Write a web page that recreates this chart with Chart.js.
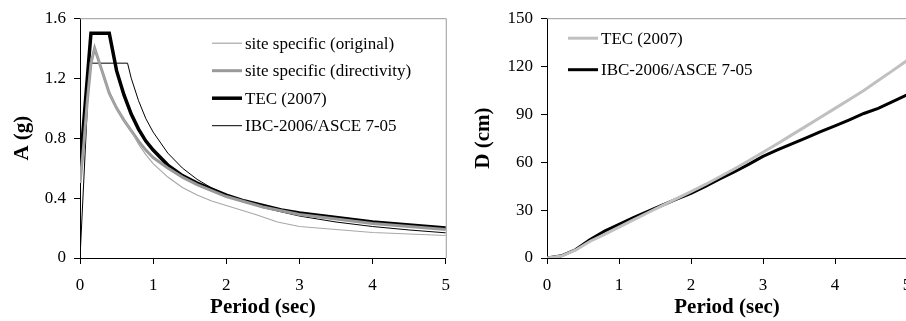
<!DOCTYPE html>
<html>
<head>
<meta charset="utf-8">
<script src="https://cdn.jsdelivr.net/npm/chart.js@4"></script>
<style>
	html, body { margin: 0; padding: 0; background: #fff; overflow: hidden; }
	body { width: 906px; height: 321px; position: relative; }
	.panel { position: absolute; top: 0; }
	#left { left: 0; width: 461px; height: 321px; }
	#right { left: 453px; width: 520px; height: 321px; }
</style>
</head>
<body>
<div class="panel" id="left"><canvas id="accelChart" width="461" height="321"></canvas></div>
<div class="panel" id="right"><canvas id="dispChart" width="520" height="321"></canvas></div>
<script>
// acceleration spectra (g) vs period (sec)
const origPeriods = [0, 0.05, 0.1, 0.15, 0.2, 0.3, 0.4, 0.5, 0.6, 0.7, 0.8, 0.9, 1.0, 1.2, 1.4, 1.6, 1.8, 2.0, 2.2, 2.4, 2.7, 3.0, 3.5, 4.0, 4.5, 5.0];
const origAccel = [0.5, 0.75, 1.05, 1.3, 1.4, 1.25, 1.1, 1.0, 0.92, 0.85, 0.76, 0.69, 0.63, 0.54, 0.47, 0.42, 0.38, 0.35, 0.32, 0.29, 0.24, 0.21, 0.19, 0.17, 0.16, 0.15];

const dirPeriods = [0, 0.05, 0.1, 0.15, 0.2, 0.3, 0.4, 0.5, 0.6, 0.7, 0.8, 0.9, 1.0, 1.2, 1.4, 1.6, 1.8, 2.0, 2.5, 3.0, 3.5, 4.0, 4.5, 5.0];
const dirAccel = [0.5, 0.75, 1.05, 1.3, 1.4, 1.25, 1.1, 1.0, 0.92, 0.85, 0.78, 0.72, 0.67, 0.6, 0.54, 0.49, 0.45, 0.41, 0.34, 0.29, 0.26, 0.23, 0.21, 0.19];

const tecPeriods = [0, 0.15, 0.4, 0.5, 0.6, 0.7, 0.8, 0.9, 1.0, 1.2, 1.4, 1.6, 1.8, 2.0, 2.25, 2.5, 2.75, 3.0, 3.5, 4.0, 4.5, 5.0];
const tecAccel = [0.6, 1.5, 1.5, 1.25, 1.09, 0.96, 0.86, 0.78, 0.72, 0.62, 0.55, 0.5, 0.46, 0.42, 0.38, 0.35, 0.32, 0.3, 0.27, 0.24, 0.22, 0.2];

const ibcPeriods = [0, 0.13, 0.65, 0.7, 0.8, 0.9, 1.0, 1.2, 1.4, 1.6, 1.8, 2.0, 2.5, 3.0, 3.5, 4.0, 4.5, 5.0];
const ibcAccel = [0, 1.3, 1.3, 1.2, 1.05, 0.93, 0.84, 0.7, 0.6, 0.525, 0.467, 0.42, 0.336, 0.28, 0.24, 0.21, 0.187, 0.168];

// displacement spectra (cm)
const dispPeriods = [0, 0.2, 0.4, 0.6, 0.8, 1.0, 1.2, 1.4, 1.6, 1.8, 2.0, 2.2, 2.4, 2.6, 2.8, 3.0, 3.2, 3.4, 3.6, 3.8, 4.0, 4.2, 4.4, 4.6, 4.8, 5.0];
const tecDisp = [0, 1.2, 5.0, 10.5, 14.8, 19.3, 23.8, 28.3, 32.8, 37.2, 41.5, 46.0, 50.8, 55.7, 60.8, 66.2, 71.5, 77.0, 82.5, 88.0, 93.6, 99.2, 104.8, 111.0, 117.2, 123.5];
const ibcDisp = [0, 1.4, 5.3, 11.6, 16.8, 21.0, 25.2, 29.2, 33.0, 36.8, 40.4, 44.8, 49.4, 53.8, 58.6, 63.6, 67.6, 71.4, 75.2, 79.0, 82.6, 86.4, 90.4, 93.6, 97.8, 102.0];

const serif = "'Liberation Serif', 'Times New Roman', serif";

function points(xs, ys) {
	return xs.map((x, i) => ({ x: x, y: ys[i] }));
}

function series(label, xs, ys, color, width) {
	return {
		label: label,
		data: points(xs, ys),
		borderColor: color,
		borderWidth: width,
		pointRadius: 0,
		tension: 0,
		fill: false,
	};
}

// legend drawn inside the plot area, Excel style
const inlineLegend = {
	id: "inlineLegend",
	afterDraw(chart, args, opts) {
		const { ctx, chartArea } = chart;
		ctx.save();
		ctx.font = "17px " + serif;
		ctx.textBaseline = "middle";
		chart.data.datasets.forEach((ds, i) => {
			const x = chartArea.left + opts.left;
			const y = chartArea.top + opts.top + i * opts.rowGap;
			ctx.strokeStyle = ds.borderColor;
			ctx.lineWidth = ds.borderWidth;
			ctx.beginPath();
			ctx.moveTo(x, y);
			ctx.lineTo(x + 30, y);
			ctx.stroke();
			ctx.fillStyle = "#000";
			ctx.fillText(ds.label, x + 33, y + 1);
		});
		ctx.restore();
	},
};

// grey top and right border of the plot area
const plotBorder = {
	id: "plotBorder",
	beforeDatasetsDraw(chart) {
		const { ctx, chartArea } = chart;
		ctx.save();
		ctx.strokeStyle = "#9a9a9a";
		ctx.lineWidth = 1;
		ctx.beginPath();
		ctx.moveTo(chartArea.left, chartArea.top + 0.5);
		ctx.lineTo(chartArea.right + 0.5, chartArea.top + 0.5);
		ctx.lineTo(chartArea.right + 0.5, chartArea.bottom);
		ctx.stroke();
		ctx.restore();
	},
};

function axes(yMax, yStep, yTitle, yWidth, yTitlePad) {
	const tickFont = { family: serif, size: 17 };
	const titleFont = { family: serif, size: 21, weight: "bold" };
	return {
		x: {
			type: "linear",
			min: 0,
			max: 5,
			ticks: { stepSize: 1, font: tickFont, color: "#000", padding: 11, maxRotation: 0 },
			grid: { drawOnChartArea: false, tickLength: 6, color: "#000" },
			border: { color: "#000" },
			title: { display: true, text: "Period (sec)", font: titleFont, color: "#000", padding: { top: 0, bottom: 1 } },
			afterFit: scale => { scale.height = 63; },
		},
		y: {
			min: 0,
			max: yMax,
			ticks: { stepSize: yStep, font: tickFont, color: "#000", padding: 8 },
			grid: { drawOnChartArea: false, tickLength: 6, color: "#000" },
			border: { color: "#000" },
			title: { display: true, text: yTitle, font: titleFont, color: "#000", padding: { top: yTitlePad, bottom: 0 } },
			afterFit: scale => { scale.width = yWidth; },
		},
	};
}

new Chart(document.getElementById("accelChart"), {
	type: "line",
	data: {
		datasets: [
			series("site specific (original)", origPeriods, origAccel, "#a8a8a8", 1.2),
			series("site specific (directivity)", dirPeriods, dirAccel, "#999999", 3),
			series("TEC (2007)", tecPeriods, tecAccel, "#000000", 3.5),
			series("IBC-2006/ASCE 7-05", ibcPeriods, ibcAccel, "#000000", 1),
		],
	},
	options: {
		responsive: false,
		animation: false,
		layout: { padding: { top: 16, right: 7, left: 0, bottom: 0 } },
		plugins: {
			legend: { display: false },
			tooltip: { enabled: false },
			inlineLegend: { left: 132, top: 25, rowGap: 27.5 },
		},
		scales: axes(1.6, 0.4, "A (g)", 80, 10),
	},
	plugins: [plotBorder, inlineLegend],
});

new Chart(document.getElementById("dispChart"), {
	type: "line",
	data: {
		datasets: [
			series("TEC (2007)", dispPeriods, tecDisp, "#c0c0c0", 3),
			series("IBC-2006/ASCE 7-05", dispPeriods, ibcDisp, "#000000", 3),
		],
	},
	options: {
		responsive: false,
		animation: false,
		layout: { padding: { top: 16, right: 66, left: 0, bottom: 0 } },
		plugins: {
			legend: { display: false },
			tooltip: { enabled: false },
			inlineLegend: { left: 21, top: 20, rowGap: 31.5 },
		},
		scales: axes(150, 30, "D (cm)", 94, 18),
	},
	plugins: [plotBorder, inlineLegend],
});
</script>
</body>
</html>
